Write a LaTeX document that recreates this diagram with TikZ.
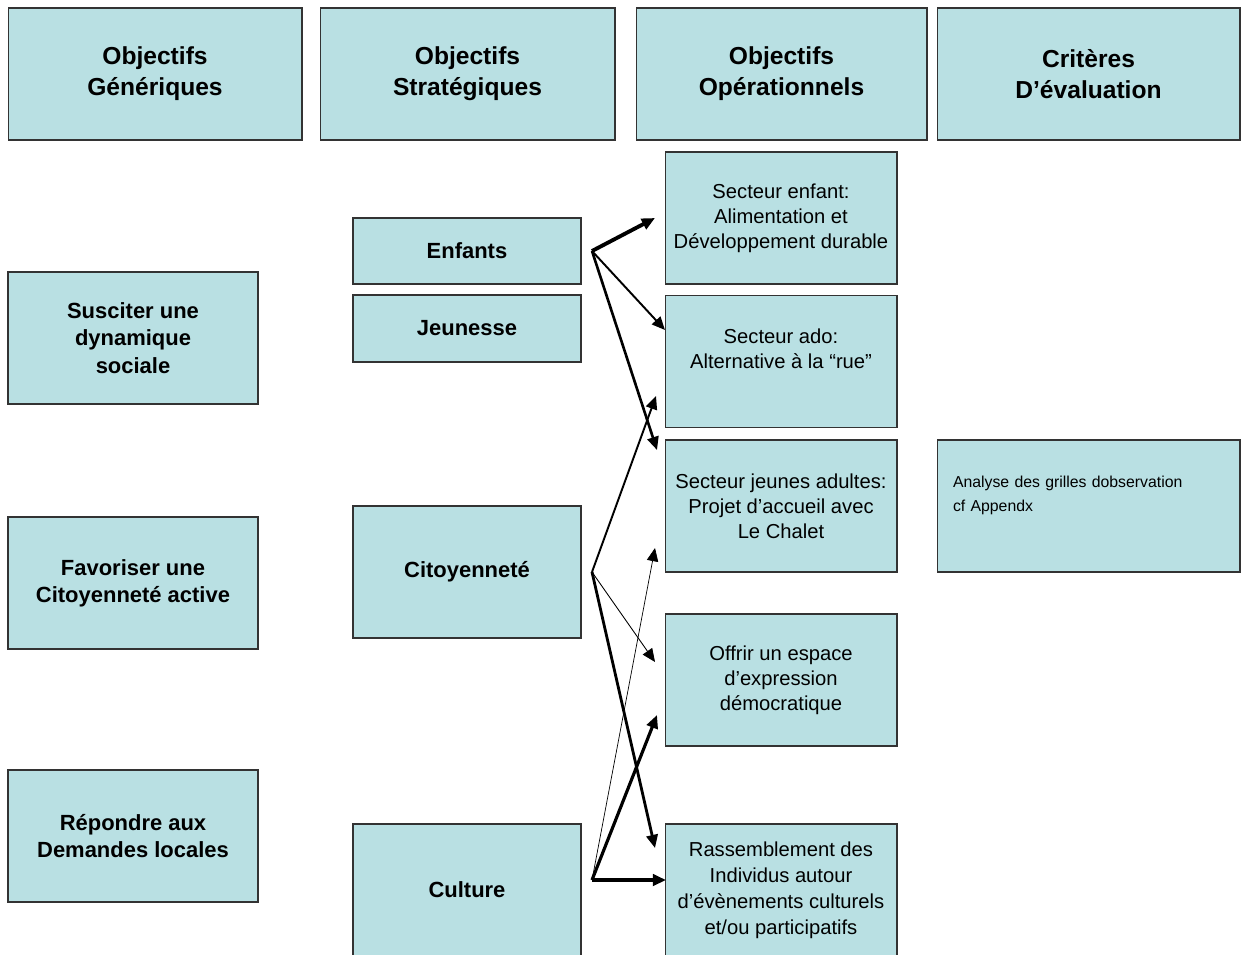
\documentclass[tikz,border=0pt]{standalone}
\usepackage{fontspec}
\setmainfont{Liberation Sans}
\usetikzlibrary{arrows.meta}
\definecolor{boxblue}{RGB}{185,224,227}

\begin{document}
\begin{tikzpicture}[x=0.02cm, y=-0.02cm,
    box/.style={draw=black!80, line width=0.6pt, fill=boxblue, inner sep=0pt, align=center},
    head/.style={box, minimum height=2.64cm, font=\fontsize{14}{17.5}\selectfont\bfseries},
    goal/.style={box, minimum width=5cm, minimum height=2.64cm, font=\fontsize{12.5}{15.5}\selectfont\bfseries},
    strat/.style={box, minimum width=4.56cm, font=\fontsize{12.5}{15.3}\selectfont\bfseries},
    oper/.style={box, minimum width=4.64cm, minimum height=2.64cm, font=\fontsize{11.5}{14.2}\selectfont},
    link/.style={-{Triangle[length=7.5pt,width=6.5pt]}}]
    \useasboundingbox (0,0) rectangle (1248,954);
    \clip (0,0) rectangle (1248,954);

    % column heads
    \node[head, minimum width=5.88cm] (gen) at (155,74) {Objectifs\\Génériques};
    \node[head, minimum width=5.9cm] (strat) at (467.5,74) {Objectifs\\Stratégiques};
    \node[head, minimum width=5.82cm] (oper) at (781.5,74) {Objectifs\\Opérationnels};
    \node[head, minimum width=6.06cm] (crit) at (1088.5,74) {Critères\\D’évaluation};

    % generic goals
    \node[goal] (susciter) at (133,338) {Susciter une\\dynamique\\sociale};
    \node[goal] (favoriser) at (133,583) {Favoriser une\\Citoyenneté active};
    \node[goal] (repondre) at (133,836) {Répondre aux\\Demandes locales};

    % strategic goals
    \node[strat, minimum height=1.32cm] (enfants) at (467,251) {Enfants};
    \node[strat, minimum height=1.34cm] (jeunesse) at (467,328.5) {Jeunesse};
    \node[strat, minimum height=2.64cm] (citoyen) at (467,572) {Citoyenneté};
    \node[strat, minimum height=2.64cm] (culture) at (467,890) {Culture};

    % operational goals
    \node[oper] (enfant) at (781,218) {Secteur enfant:\\Alimentation et\\Développement durable};
    \node[oper] (ado) at (781,361.5) {Secteur ado:\\Alternative à la “rue”\\\mbox{}};
    \node[oper] (adulte) at (781,506) {Secteur jeunes adultes:\\Projet d’accueil avec\\Le Chalet};
    \node[oper] (offrir) at (781,680) {Offrir un espace\\d’expression\\démocratique};
    \node[oper, font=\fontsize{11.5}{14.8}\selectfont] (rassembl) at (781,890) {Rassemblement des\\Individus autour\\d’évènements culturels\\et/ou participatifs};

    % criteria
    \node[box, align=left, text width=5.42cm, inner xsep=0.32cm, minimum height=2.64cm,
        font=\fontsize{9}{13.6}\selectfont] (analyse) at (1088.5,506) {Analyse des grilles dobservation\\cf Appendx\\\mbox{}};

    % links
    \coordinate (enf-o) at (592,251);
    \coordinate (cit-o) at (592,572);
    \coordinate (cul-o) at (592,880);
    \coordinate (enfant-i) at (655,218);
    \coordinate (ado-i) at (665,330);
    \coordinate (ado-j) at (656,396);
    \coordinate (adulte-i) at (657,450);
    \coordinate (adulte-j) at (655,548);
    \coordinate (offrir-i) at (655,662);
    \coordinate (offrir-j) at (657,715);
    \coordinate (rassembl-i) at (655,848);
    \coordinate (rassembl-j) at (666,880);

    \draw[link, line width=2.2pt] (enf-o) -- (enfant-i);
    \draw[link, line width=1.1pt] (enf-o) -- (ado-i);
    \draw[link, line width=1.5pt] (enf-o) -- (adulte-i);
    \draw[link, line width=1.1pt] (cit-o) -- (ado-j);
    \draw[link, line width=0.5pt] (cit-o) -- (offrir-i);
    \draw[link, line width=1.6pt] (cit-o) -- (rassembl-i);
    \draw[link, line width=0.4pt] (cul-o) -- (adulte-j);
    \draw[link, line width=1.8pt] (cul-o) -- (offrir-j);
    \draw[link, line width=2.4pt] (cul-o) -- (rassembl-j);
\end{tikzpicture}
\end{document}
